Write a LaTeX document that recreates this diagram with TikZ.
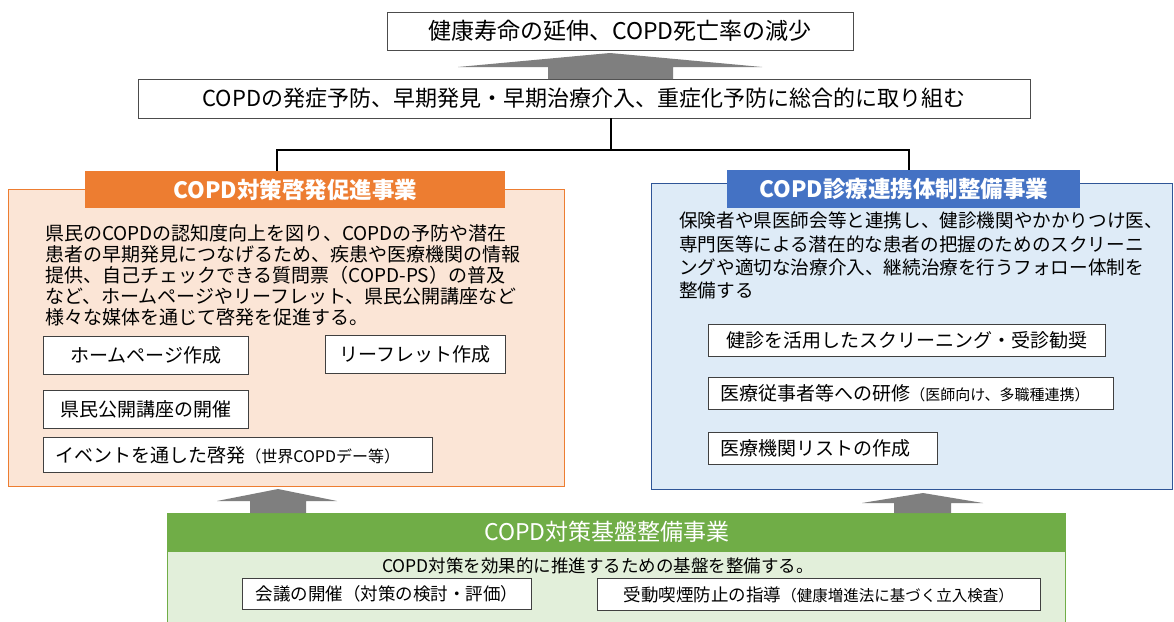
\documentclass[tikz,border=0pt]{standalone}
\usepackage{fontspec}
\setmainfont{Noto Sans CJK JP}
\definecolor{orangeH}{HTML}{ED7D31}
\definecolor{orangeF}{HTML}{FBE5D6}
\definecolor{blueH}{HTML}{4472C4}
\definecolor{blueF}{HTML}{DEEBF7}
\definecolor{blueB}{HTML}{2F5597}
\definecolor{greenH}{HTML}{70AD47}
\definecolor{greenF}{HTML}{E2EFDA}
\definecolor{arrowG}{HTML}{7F7F7F}
\newcommand\jfs[2]{\fontsize{#1}{#2}\selectfont}
\tikzset{
  topbox/.style={draw=black!70, line width=0.9pt, fill=white, inner sep=0pt, font=\jfs{22}{24}},
  itembox/.style={draw=black!75, line width=0.8pt, fill=white, inner sep=0pt, anchor=north west, font=\jfs{19}{22}},
  litem/.style={itembox, inner xsep=12pt, align=left},
  headbox/.style={inner sep=0pt, anchor=north west, text=white, font=\bfseries\jfs{22.5}{24}},
  panel/.style={inner sep=0pt, anchor=north west, line width=1.2pt},
  conn/.style={draw=black, line width=1.2pt},
  blockarrow/.style={fill=arrowG, draw=none},
  bodytext/.style={anchor=north west, inner sep=0pt, align=left}
}
\begin{document}
\begin{tikzpicture}[x=1pt,y=-1pt]
\useasboundingbox (0,0) rectangle (1174,621);
\clip (0,0) rectangle (1174,621);
\fill[white] (0,0) rectangle (1174,621);

% top goal
\node[topbox, minimum width=466pt, minimum height=38pt, font=\jfs{23}{25}] (goal) at (620,31) {健康寿命の延伸、COPD死亡率の減少};
\node[topbox, minimum width=892pt, minimum height=39pt] (policy) at (584,98.5) {COPDの発症予防、早期発見・早期治療介入、重症化予防に総合的に取り組む};

% top block arrow
\fill[blockarrow] (548,79) -- (548,67) -- (458,67) -- (610,53) -- (762,67) -- (673,67) -- (673,79) -- cycle;

% left panel
\node[panel, draw=orangeH, fill=orangeF, minimum width=556pt, minimum height=297pt] (obox) at (8,189) {};
\node[headbox, fill=orangeH, minimum width=420pt, minimum height=37pt] (ohead) at (85,171) {COPD対策啓発促進事業};
\node[bodytext, font=\jfs{19}{21}] (otext) at (45,224) {県民のCOPDの認知度向上を図り、COPDの予防や潜在\\患者の早期発見につなげるため、疾患や医療機関の情報\\提供、自己チェックできる質問票（COPD-PS）の普及\\など、ホームページやリーフレット、県民公開講座など\\様々な媒体を通じて啓発を促進する。};
\node[itembox, minimum width=205pt, minimum height=38pt] (o1) at (43,336) {ホームページ作成};
\node[itembox, minimum width=180pt, minimum height=38pt] (o2) at (325,335) {リーフレット作成};
\node[itembox, minimum width=205pt, minimum height=38pt] (o3) at (43,390) {県民公開講座の開催};
\node[litem, text width=365pt, minimum height=35pt] (o4) at (43,437) {イベントを通した啓発{\jfs{16}{18}（世界COPDデー等）}};

% right panel
\node[panel, draw=blueB, fill=blueF, minimum width=521pt, minimum height=306pt] (bbox) at (651,183) {};
\node[headbox, fill=blueH, minimum width=353pt, minimum height=38pt] (bhead) at (727,170) {COPD診療連携体制整備事業};
\node[bodytext, font=\jfs{18.6}{23.3}] (btext) at (679,212) {保険者や県医師会等と連携し、健診機関やかかりつけ医、\\専門医等による潜在的な患者の把握のためのスクリーニ\\ングや適切な治療介入、継続治療を行うフォロー体制を\\整備する};
\node[itembox, minimum width=397pt, minimum height=32pt] (b1) at (708,324) {健診を活用したスクリーニング・受診勧奨};
\node[litem, text width=381pt, minimum height=32pt] (b2) at (708,377) {医療従事者等への研修{\jfs{15}{17}（医師向け、多職種連携）}};
\node[litem, text width=205pt, minimum height=32pt] (b3) at (708,432) {医療機関リストの作成};

% connectors
\coordinate (jc) at (611,150);
\coordinate (lj) at (277,150);
\coordinate (rj) at (909,150);
\draw[conn] (jc |- policy.south) -- (jc);
\draw[conn] (lj |- ohead.north) -- (lj) -- (rj) -- (rj |- bhead.north);

% bottom panel
\node[panel, draw=greenH, fill=greenF, minimum width=898pt, minimum height=80pt] (gbox) at (167,551) {};
\node[panel, fill=greenH, draw=greenH, minimum width=898pt, minimum height=38pt] (ghead) at (167,513) {};
\node[text=white, inner sep=0pt, font=\jfs{23}{25}] (gtitle) at (607,532) {COPD対策基盤整備事業};
\node[inner sep=0pt, font=\jfs{17.5}{20}] (gtext) at (598,566) {COPD対策を効果的に推進するための基盤を整備する。};
\node[itembox, minimum width=289pt, minimum height=31pt, font=\jfs{17.5}{20}] (g1) at (242,578) {会議の開催（対策の検討・評価）};
\node[itembox, minimum width=443pt, minimum height=32pt, font=\jfs{17.5}{20}] (g2) at (597,578) {受動喫煙防止の指導{\jfs{15.5}{18}（健康増進法に基づく立入検査）}};

% bottom block arrows
\fill[blockarrow] (250,513) -- (250,501) -- (217,501) -- (278,489) -- (337,501) -- (306,501) -- (306,513) -- cycle;
\fill[blockarrow] (894,513) -- (894,503) -- (862,503) -- (923,493) -- (983,503) -- (951,503) -- (951,513) -- cycle;
\end{tikzpicture}
\end{document}
